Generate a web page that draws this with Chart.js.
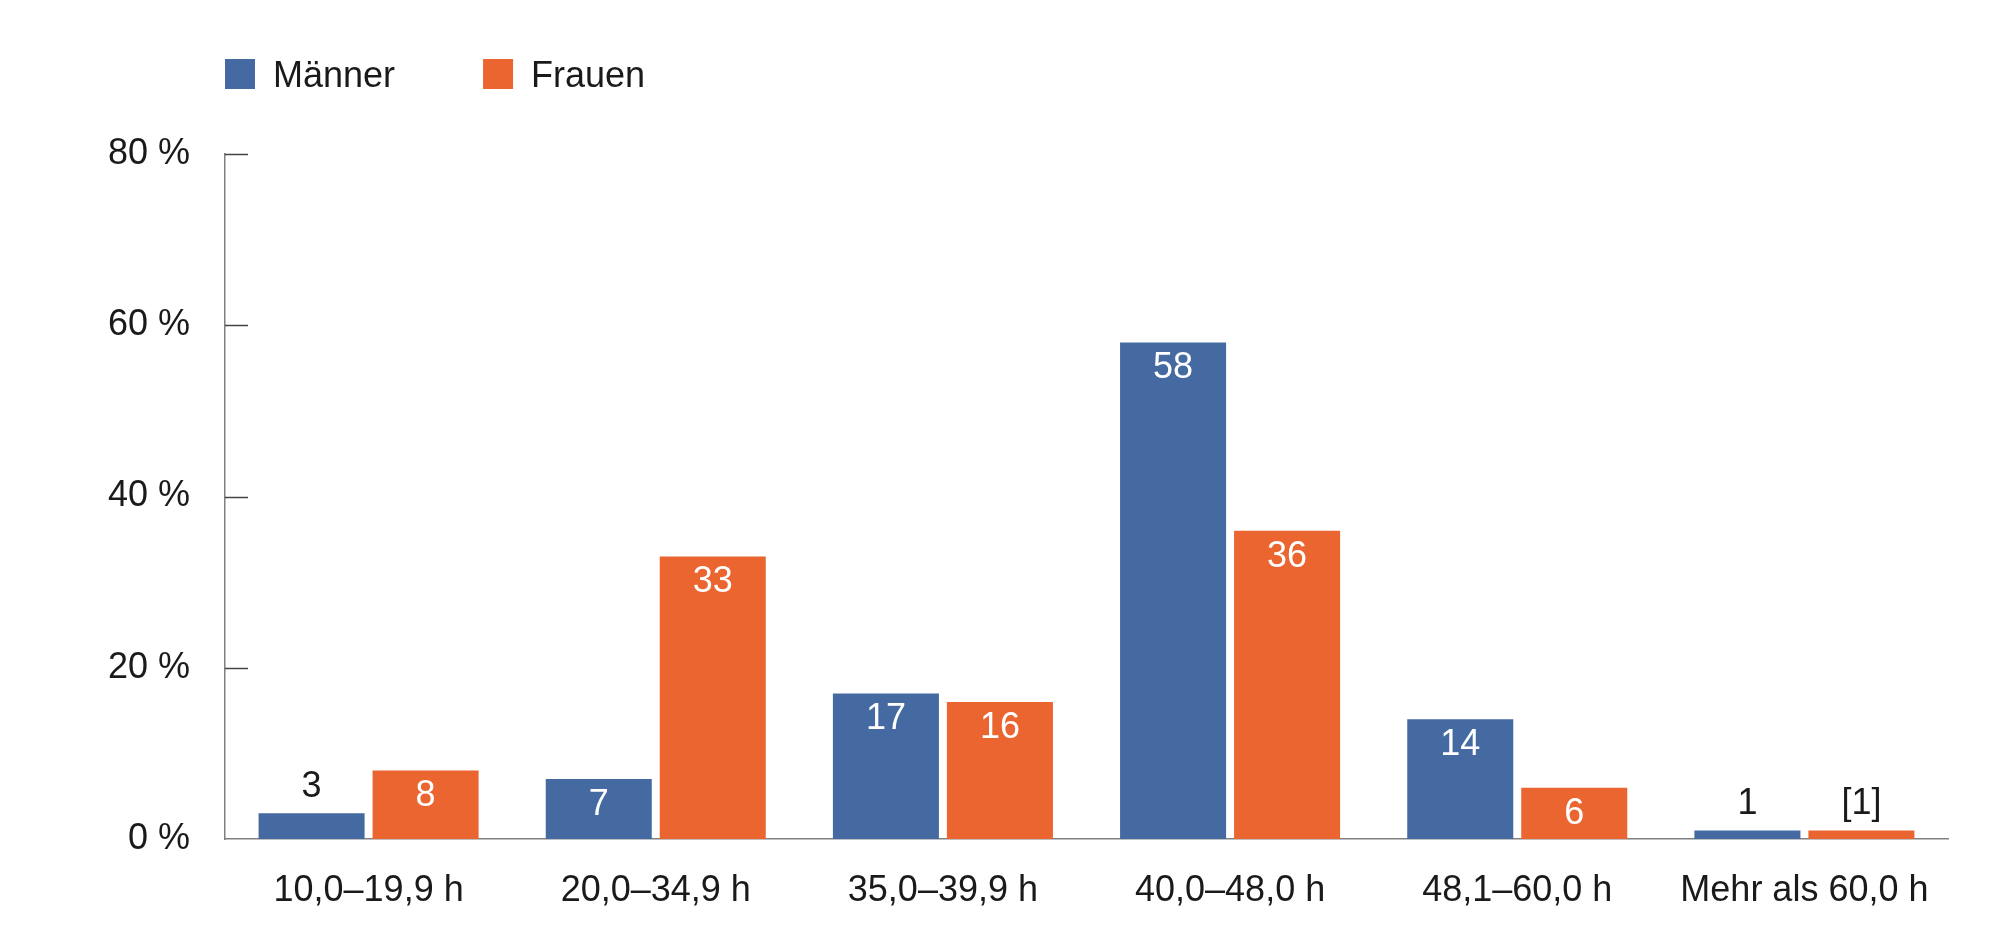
<!DOCTYPE html>
<html>
<head>
<meta charset="utf-8">
<script src="https://cdn.jsdelivr.net/npm/chart.js@4.4.1/dist/chart.umd.min.js"></script>
<style>
  html, body { margin: 0; padding: 0; background: #fff; }
  #wrap { width: 2008px; height: 937px; }
</style>
</head>
<body>
<div id="wrap"><canvas id="chart" width="2008" height="937"></canvas></div>
<script>
var categories = ['10,0–19,9 h', '20,0–34,9 h', '35,0–39,9 h', '40,0–48,0 h', '48,1–60,0 h', 'Mehr als 60,0 h'];
var seriesNames = ['Männer', 'Frauen'];
var maenner = [3, 7, 17, 58, 14, 1];
var frauen = [8, 33, 16, 36, 6, 1];
// Beschriftungen der Balken (Frauen > 60 h nur eingeschränkt aussagekräftig)
var maennerText = ['3', '7', '17', '58', '14', '1'];
var frauenText = ['8', '33', '16', '36', '6', '[1]'];
var yTicks = [0, 20, 40, 60, 80];

var blue = '#456aa2';
var orange = '#ea6530';
var textColor = '#1a1a1a';
var fontFamily = '"Liberation Sans", Arial, sans-serif';

Chart.defaults.font.family = fontFamily;
Chart.defaults.font.size = 36;
Chart.defaults.color = textColor;

// kurze Striche innen an der y-Achse
var innerTicks = {
    id: 'innerTicks',
    afterDraw: function(chart) {
        var ctx = chart.ctx;
        var y = chart.scales.y;
        var left = chart.chartArea.left;
        ctx.save();
        ctx.strokeStyle = '#444';
        ctx.lineWidth = 1.5;
        yTicks.forEach(function(v) {
            if (v === 0) return;
            var py = Math.round(y.getPixelForValue(v)) + 0.5;
            ctx.beginPath();
            ctx.moveTo(left, py);
            ctx.lineTo(left + 23, py);
            ctx.stroke();
        });
        ctx.restore();
    }
};

// Werte an den Balken
var barLabels = {
    id: 'barLabels',
    afterDatasetsDraw: function(chart) {
        var ctx = chart.ctx;
        ctx.save();
        ctx.font = '36px ' + fontFamily;
        ctx.textAlign = 'center';
        ctx.textBaseline = 'middle';
        chart.data.datasets.forEach(function(ds, i) {
            var meta = chart.getDatasetMeta(i);
            meta.data.forEach(function(bar, j) {
                var v = ds.data[j];
                var txt = ds.valueText[j];
                if (v >= 5) {
                    ctx.fillStyle = '#fff';
                    ctx.fillText(txt, bar.x, bar.y + 26);
                } else {
                    ctx.fillStyle = textColor;
                    ctx.fillText(txt, bar.x, bar.y - 26);
                }
            });
        });
        ctx.restore();
    }
};

// Legende oben links, bündig mit der y-Achse
var topLegend = {
    id: 'topLegend',
    afterDraw: function(chart) {
        var ctx = chart.ctx;
        var x = chart.chartArea.left;
        var cy = 74;
        ctx.save();
        ctx.font = '36px ' + fontFamily;
        ctx.textAlign = 'left';
        ctx.textBaseline = 'middle';
        chart.data.datasets.forEach(function(ds) {
            ctx.fillStyle = ds.backgroundColor;
            ctx.fillRect(x, cy - 15, 30, 30);
            ctx.fillStyle = textColor;
            ctx.fillText(ds.label, x + 48, cy + 3);
            x = x + 48 + ctx.measureText(ds.label).width + 88;
        });
        ctx.restore();
    }
};

var ctx = document.getElementById('chart').getContext('2d');
var chart = new Chart(ctx, {
    type: 'bar',
    data: {
        labels: categories,
        datasets: [
            {
                label: seriesNames[0],
                data: maenner,
                valueText: maennerText,
                backgroundColor: blue,
                categoryPercentage: 0.794,
                barPercentage: 0.93
            },
            {
                label: seriesNames[1],
                data: frauen,
                valueText: frauenText,
                backgroundColor: orange,
                categoryPercentage: 0.794,
                barPercentage: 0.93
            }
        ]
    },
    options: {
        responsive: false,
        animation: false,
        devicePixelRatio: 1,
        layout: {
            padding: { left: 0, right: 60, top: 154, bottom: 0 }
        },
        plugins: {
            legend: { display: false },
            tooltip: { enabled: false }
        },
        scales: {
            x: {
                grid: { display: false, drawTicks: false },
                border: { display: true, color: '#808080', width: 1.5 },
                ticks: { padding: 30, color: textColor, maxRotation: 0, autoSkip: false },
                afterFit: function(scale) { scale.height = 98; }
            },
            y: {
                min: 0,
                max: 80,
                grid: { display: false, drawTicks: false },
                border: { display: true, color: '#808080', width: 1.5 },
                afterBuildTicks: function(scale) {
                    scale.ticks = yTicks.map(function(v) { return { value: v }; });
                },
                ticks: {
                    padding: 35,
                    color: textColor,
                    callback: function(v) { return v + ' %'; }
                },
                afterFit: function(scale) { scale.width = 225; }
            }
        }
    },
    plugins: [innerTicks, barLabels, topLegend]
});
</script>
</body>
</html>
